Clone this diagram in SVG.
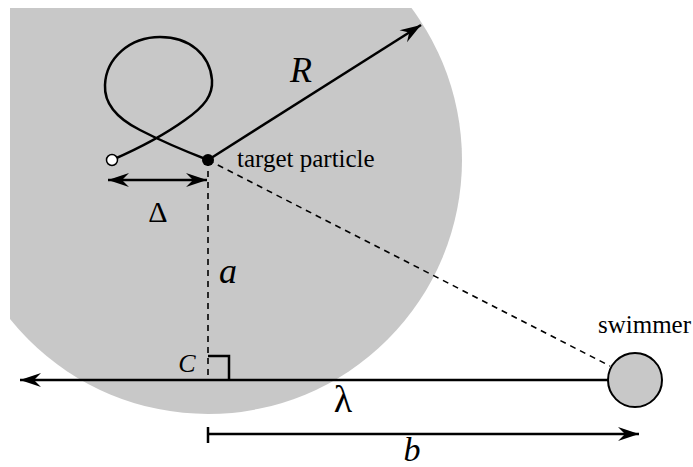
<svg xmlns="http://www.w3.org/2000/svg" width="693" height="467" viewBox="0 0 693 467">
<style>
.ln{stroke:#000;fill:none;stroke-width:2.5}
.dash{stroke:#000;fill:none;stroke-width:1.6;stroke-dasharray:6,5}
.it{font-family:"Liberation Serif",serif;font-style:italic;fill:#000}
.rm{font-family:"Liberation Serif",serif;fill:#000}
</style>
<defs>
<clipPath id="clip"><rect x="10" y="8" width="683" height="459"/></clipPath>
<marker id="ah" markerUnits="userSpaceOnUse" markerWidth="24" markerHeight="16" viewBox="-22 -8 24 16" refX="0" refY="0" orient="auto-start-reverse">
<path d="M0,0 L-21,-7 L-14,0 L-21,7 Z" fill="#000"/>
</marker>
</defs>
<rect width="693" height="467" fill="#fff"/>
<g id="region">
<circle cx="208" cy="160" r="254" fill="#c8c8c8" clip-path="url(#clip)"/>
</g>
<g id="connectors">
<path class="dash" d="M208,160 V380"/>
<path class="dash" d="M208,160 L610,366"/>
<path class="ln" d="M208,160 L421,25" marker-end="url(#ah)"/>
<path class="ln" d="M108,180 H207" marker-start="url(#ah)" marker-end="url(#ah)"/>
<path class="ln" d="M608,380 H20" marker-end="url(#ah)"/>
<path class="ln" d="M208,434 H639" stroke-width="2" marker-end="url(#ah)"/>
<path class="ln" d="M208,427 V443" stroke-width="2"/>
<path class="ln" d="M208,356 H229 V380" stroke-width="2"/>
<path class="ln" d="M112,160 C135,150 160,138 185,120 C205,106 213,95 212,80 C210,55 190,37 160,37 C130,37 106,58 105,85 C104,105 120,120 140,130 C165,143 190,153 208,160" stroke-width="2"/>
</g>
<g id="start"><circle cx="112" cy="160" r="5.5" fill="#fff" stroke="#000" stroke-width="1.5"/></g>
<g id="target">
<circle cx="208" cy="160" r="6" fill="#000"/>
<text class="rm" x="237" y="167" font-size="25">target particle</text>
</g>
<g id="swimmer">
<circle cx="635" cy="380" r="27" fill="#c8c8c8" stroke="#000" stroke-width="2"/>
<text class="rm" x="598" y="333" font-size="25">swimmer</text>
</g>
<g id="labels">
<text class="it" x="301" y="82" font-size="36" text-anchor="middle">R</text>
<text class="rm" x="158" y="222" font-size="30" text-anchor="middle">Δ</text>
<text class="it" x="228" y="283" font-size="36" text-anchor="middle">a</text>
<text class="it" x="187" y="372" font-size="26" text-anchor="middle">C</text>
<text class="rm" x="343" y="412" font-size="38" text-anchor="middle">λ</text>
<text class="it" x="412" y="461" font-size="34" text-anchor="middle">b</text>
</g>
</svg>
